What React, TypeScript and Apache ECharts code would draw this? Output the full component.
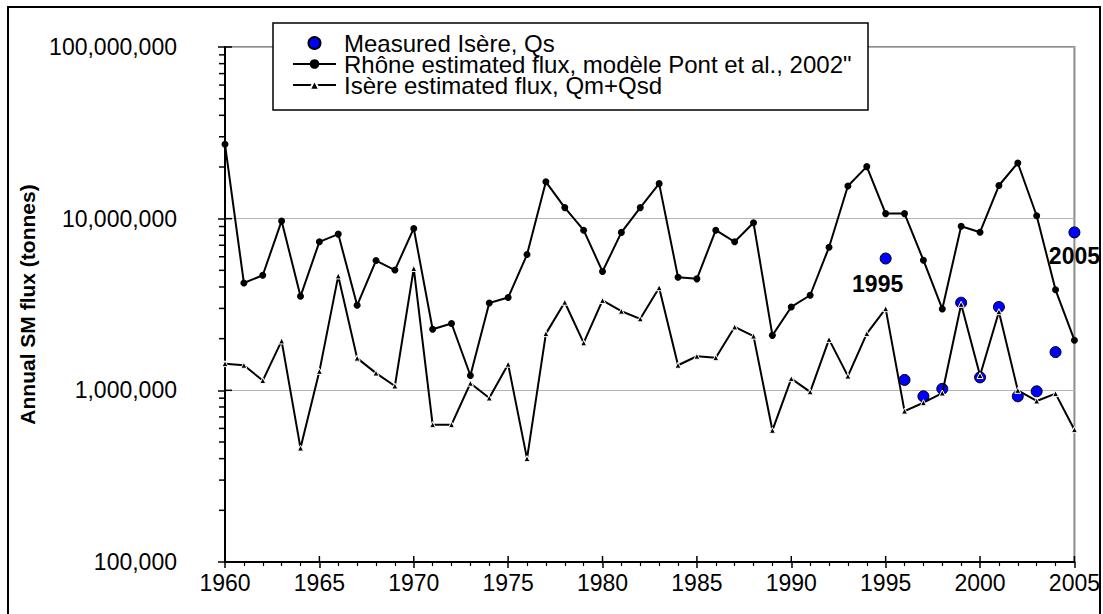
import React, { useEffect, useRef } from "react";
import * as echarts from "echarts";

const years = [
  1960, 1961, 1962, 1963, 1964, 1965, 1966, 1967, 1968, 1969,
  1970, 1971, 1972, 1973, 1974, 1975, 1976, 1977, 1978, 1979,
  1980, 1981, 1982, 1983, 1984, 1985, 1986, 1987, 1988, 1989,
  1990, 1991, 1992, 1993, 1994, 1995, 1996, 1997, 1998, 1999,
  2000, 2001, 2002, 2003, 2004, 2005,
];

const rhoneFlux = [
  27100000, 4220000, 4680000, 9700000, 3530000, 7330000, 8130000, 3130000, 5700000, 5020000,
  8770000, 2270000, 2450000, 1220000, 3230000, 3470000, 6180000, 16400000, 11600000, 8570000,
  4920000, 8320000, 11600000, 16000000, 4560000, 4460000, 8570000, 7330000, 9460000, 2090000,
  3060000, 3580000, 6820000, 15500000, 20100000, 10700000, 10700000, 5730000, 2980000, 9040000,
  8340000, 15600000, 21100000, 10400000, 3850000, 1960000,
];

const isereFlux = [
  1430000, 1400000, 1140000, 1940000, 461000, 1290000, 4640000, 1540000, 1260000, 1060000,
  5130000, 631000, 631000, 1100000, 902000, 1420000, 400000, 2140000, 3260000, 1890000,
  3340000, 2890000, 2610000, 3960000, 1400000, 1580000, 1550000, 2340000, 2070000, 585000,
  1170000, 980000, 1980000, 1210000, 2140000, 2990000, 757000, 847000, 964000, 3170000,
  1220000, 2870000, 1000000, 867000, 957000, 590000,
];

const measuredYears = [1995, 1996, 1997, 1998, 1999, 2000, 2001, 2002, 2003, 2004, 2005];
const measuredFlux = [5860000, 1150000, 923000, 1020000, 3240000, 1190000, 3060000, 923000, 987000, 1670000, 8320000];

const annotatedYears = [1995, 2005];

const yMajorTicks = [100000, 1000000, 10000000, 100000000];
const yMinorTicks = [
  200000, 300000, 400000, 500000, 600000, 700000, 800000, 900000,
  2000000, 3000000, 4000000, 5000000, 6000000, 7000000, 8000000, 9000000,
  20000000, 30000000, 40000000, 50000000, 60000000, 70000000, 80000000, 90000000,
];
const xMajorTicks = [1960, 1965, 1970, 1975, 1980, 1985, 1990, 1995, 2000, 2005];

const seriesNames = [
  "Measured Isère, Qs",
  "Rhône estimated flux, modèle Pont et al., 2002\"",
  "Isère estimated flux, Qm+Qsd",
];

const FONT = "Liberation Sans, Arial, sans-serif";

export default function App() {
  const ref = useRef<HTMLDivElement>(null);

  useEffect(() => {
    document.body.style.margin = "0";
    if (!ref.current) return;
    const chart = echarts.init(ref.current, undefined, { renderer: "svg" });

    const tickData: number[][] = [];
    yMinorTicks.forEach((v) => tickData.push([1960, v, 0]));
    yMajorTicks.forEach((v) => tickData.push([1960, v, 1]));
    xMajorTicks.forEach((x) => tickData.push([x, 100000, 2]));

    const measuredData = measuredYears.map((y, i) => {
      const item: any = { value: [y, measuredFlux[i]] };
      if (annotatedYears.includes(y)) {
        item.label = {
          show: true,
          formatter: String(y),
          position: "bottom",
          distance: 8,
          offset: y === 1995 ? [-8, 0] : [0, -2],
          fontFamily: FONT,
          fontWeight: "bold",
          fontSize: 23,
          color: "#000",
          textBorderWidth: 0,
        };
      }
      return item;
    });

    chart.setOption({
      animation: false,
      backgroundColor: "#fff",
      grid: {
        left: 225,
        right: 27,
        top: 47,
        bottom: 52,
        show: true,
        borderColor: "#8c8c8c",
        borderWidth: 2,
        backgroundColor: "transparent",
      },
      graphic: [
        {
          type: "rect",
          z: 0,
          shape: { x: 8, y: 7, width: 1092, height: 640 },
          style: { fill: "none", stroke: "#000", lineWidth: 2 },
          silent: true,
        },
        {
          type: "rect",
          z: 50,
          shape: { x: 273, y: 23, width: 595, height: 87 },
          style: { fill: "#fff", stroke: "#000", lineWidth: 1.5 },
          silent: true,
        },
      ],
      legend: {
        z: 60,
        orient: "vertical",
        left: 292,
        top: 31,
        padding: 0,
        itemGap: -3,
        itemWidth: 43,
        itemHeight: 12,
        data: seriesNames,
        textStyle: {
          fontFamily: FONT,
          fontSize: 24,
          color: "#000",
          lineHeight: 22,
          padding: [0, 0, 0, 3],
        },
      },
      xAxis: {
        type: "value",
        min: 1960,
        max: 2005,
        interval: 5,
        axisLine: { show: true, lineStyle: { color: "#000", width: 2 } },
        axisTick: { show: true, length: 6, lineStyle: { color: "#000", width: 1.5 } },
        minorTick: { show: true, splitNumber: 5, length: 4, lineStyle: { color: "#000", width: 1.2 } },
        splitLine: { show: false },
        axisLabel: {
          fontFamily: FONT,
          fontSize: 23,
          color: "#000",
          margin: 9,
          formatter: (v: number) => String(v),
        },
      },
      yAxis: {
        type: "log",
        logBase: 10,
        min: 100000,
        max: 100000000,
        name: "Annual SM flux (tonnes)",
        nameLocation: "middle",
        nameGap: 184,
        nameTextStyle: { fontFamily: FONT, fontWeight: "bold", fontSize: 21, color: "#000" },
        axisLine: { show: true, lineStyle: { color: "#000", width: 2 } },
        axisTick: { show: true, length: 7, lineStyle: { color: "#000", width: 1.5 } },
        splitLine: { show: true, lineStyle: { color: "#b4b4b4", width: 1 } },
        axisLabel: {
          fontFamily: FONT,
          fontSize: 23,
          color: "#000",
          margin: 48,
          formatter: (v: number) => Math.round(v).toLocaleString("en-US"),
        },
      },
      series: [
        {
          name: seriesNames[0],
          type: "scatter",
          z: 2,
          symbol: "circle",
          symbolSize: 11,
          itemStyle: { color: "#0000ff", borderColor: "#000", borderWidth: 1, opacity: 1 },
          data: measuredData,
        },
        {
          name: seriesNames[1],
          type: "line",
          z: 3,
          symbol: "circle",
          symbolSize: 7,
          showAllSymbol: true,
          lineStyle: { color: "#000", width: 2 },
          itemStyle: { color: "#000" },
          data: years.map((y, i) => [y, rhoneFlux[i]]),
        },
        {
          name: seriesNames[2],
          type: "line",
          z: 4,
          symbol: "triangle",
          symbolSize: 6,
          showAllSymbol: true,
          lineStyle: { color: "#000", width: 2 },
          itemStyle: { color: "#000", borderColor: "#fff", borderWidth: 1 },
          data: years.map((y, i) => [y, isereFlux[i]]),
        },
        {
          name: "axis-ticks",
          type: "custom",
          silent: true,
          clip: false,
          z: 5,
          data: tickData,
          renderItem: (params: any, api: any) => {
            const p = api.coord([api.value(0), api.value(1)]);
            const k = api.value(2);
            let shape;
            if (k === 0) shape = { x1: p[0] - 6, y1: p[1], x2: p[0], y2: p[1] };
            else if (k === 1) shape = { x1: p[0], y1: p[1], x2: p[0] + 7, y2: p[1] };
            else shape = { x1: p[0], y1: p[1] - 6, x2: p[0], y2: p[1] };
            return {
              type: "line",
              shape,
              style: { stroke: "#000", lineWidth: 1.5 },
            };
          },
        },
      ],
    });

    return () => chart.dispose();
  }, []);

  return <div ref={ref} style={{ width: 1103, height: 614 }} />;
}
